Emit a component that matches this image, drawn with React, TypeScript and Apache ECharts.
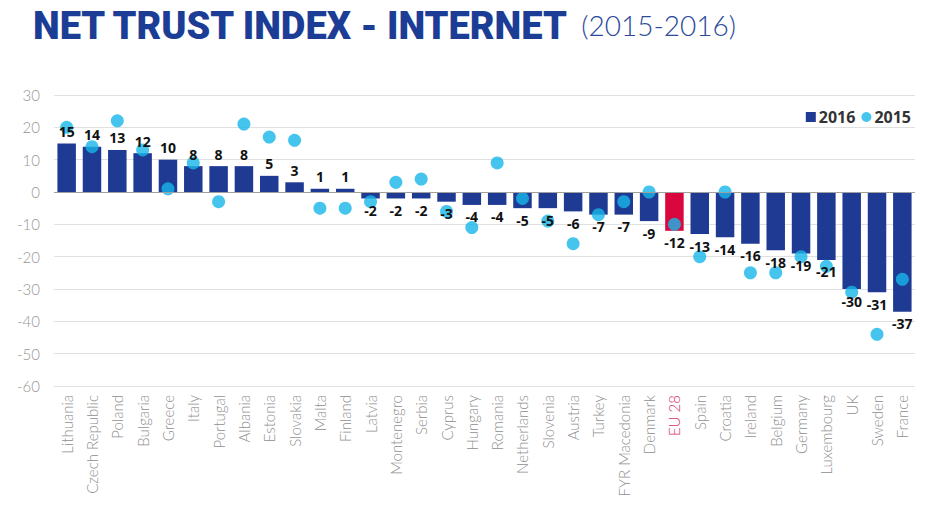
import React, { useEffect, useRef } from 'react';
import * as echarts from 'echarts';

const countries = [
  'Lithuania', 'Czech Republic', 'Poland', 'Bulgaria', 'Greece', 'Italy', 'Portugal', 'Albania',
  'Estonia', 'Slovakia', 'Malta', 'Finland', 'Latvia', 'Montenegro', 'Serbia', 'Cyprus', 'Hungary',
  'Romania', 'Netherlands', 'Slovenia', 'Austria', 'Turkey', 'FYR Macedonia', 'Denmark', 'EU 28',
  'Spain', 'Croatia', 'Ireland', 'Belgium', 'Germany', 'Luxembourg', 'UK', 'Sweden', 'France',
];
const values2016 = [
  15, 14, 13, 12, 10, 8, 8, 8, 5, 3, 1, 1, -2, -2, -2, -3, -4, -4, -5, -5, -6, -7, -7, -9, -12,
  -13, -14, -16, -18, -19, -21, -30, -31, -37,
];
const values2015 = [
  20, 14, 22, 13, 1, 9, -3, 21, 17, 16, -5, -5, -3, 3, 4, -6, -11, 9, -2, -9, -16, -7, -3, 0, -10,
  -20, 0, -25, -25, -20, -23, -31, -44, -27,
];
const highlightCategory = 'EU 28';
const yTicks = { min: -60, max: 30, interval: 10 };

const BLUE = '#1f3a93';
const CYAN = '#17b7ea';
const RED = '#d9073d';

export default function App() {
  const ref = useRef<HTMLDivElement>(null);
  useEffect(() => {
    const chart = echarts.init(ref.current!, null, { renderer: 'svg' });
    const barData = values2016.map((v, i) =>
      countries[i] === highlightCategory ? { value: v, itemStyle: { color: RED } } : v
    );
    const labelData = values2016.map((v) => ({
      value: v,
      label: { position: v >= 0 ? 'top' : 'bottom' },
    }));
    chart.setOption({
      animation: false,
      backgroundColor: '#fff',
      title: {
        text: '{a|NET TRUST INDEX - INTERNET} {b|(2015-2016)}',
        left: 28,
        top: 2,
        textStyle: {
          rich: {
            a: { fontFamily: 'Roboto', fontWeight: 900, fontSize: 38, color: '#1c3d95' },
            b: { fontFamily: 'Lato', fontWeight: 300, fontSize: 28, color: '#2b4a9b', padding: [0, 0, 2, 6] },
          },
        },
      },
      legend: {
        data: [
          { name: '2016', icon: 'rect' },
          { name: '2015', icon: 'circle' },
        ],
        right: 36,
        top: 104,
        itemWidth: 10,
        itemHeight: 10,
        itemGap: 6,
        textStyle: { fontFamily: 'Open Sans', fontWeight: 'bold', fontSize: 16, color: '#333', padding: [0, 0, 0, -2] },
      },
      grid: { left: 54, right: 37, top: 95, bottom: 129 },
      xAxis: {
        type: 'category',
        data: countries,
        axisLine: { show: false },
        axisTick: { show: false },
        axisLabel: {
          rotate: 90,
          interval: 0,
          margin: 9,
          fontFamily: 'Lato',
          fontWeight: 300,
          fontSize: 15,
          color: '#8f8f8f',
          formatter: (v: string) => (v === highlightCategory ? `{red|${v}}` : v),
          rich: { red: { color: '#d6336c', fontFamily: 'Lato', fontWeight: 300, fontSize: 15 } },
        },
      },
      yAxis: {
        type: 'value',
        min: yTicks.min,
        max: yTicks.max,
        interval: yTicks.interval,
        axisLine: { show: false },
        axisTick: { show: false },
        axisLabel: { margin: 14, fontFamily: 'Lato', fontWeight: 300, fontSize: 15, color: '#969696' },
        splitLine: { lineStyle: { color: '#e0e0e0', width: 1 } },
      },
      series: [
        {
          name: '2016',
          type: 'bar',
          data: barData,
          barCategoryGap: '27%',
          itemStyle: { color: BLUE },
          z: 2,
          markLine: {
            silent: true,
            symbol: 'none',
            label: { show: false },
            lineStyle: { color: '#a0a0a0', type: 'solid', width: 1 },
            data: [{ yAxis: 0 }],
          },
        },
        {
          name: '2015',
          type: 'scatter',
          data: values2015,
          symbol: 'circle',
          symbolSize: 13,
          itemStyle: { color: CYAN },
          z: 3,
        },
        {
          name: 'labels',
          type: 'bar',
          data: labelData,
          barGap: '-100%',
          barCategoryGap: '27%',
          itemStyle: { color: 'rgba(0,0,0,0)' },
          silent: true,
          z: 4,
          label: {
            show: true,
            distance: 5,
            fontFamily: 'Open Sans',
            fontWeight: 'bold',
            fontSize: 14,
            color: '#111',
          },
        },
      ],
    });
    return () => chart.dispose();
  }, []);
  return <div ref={ref} style={{ position: 'fixed', left: 0, top: 0, width: 952, height: 515 }} />;
}
